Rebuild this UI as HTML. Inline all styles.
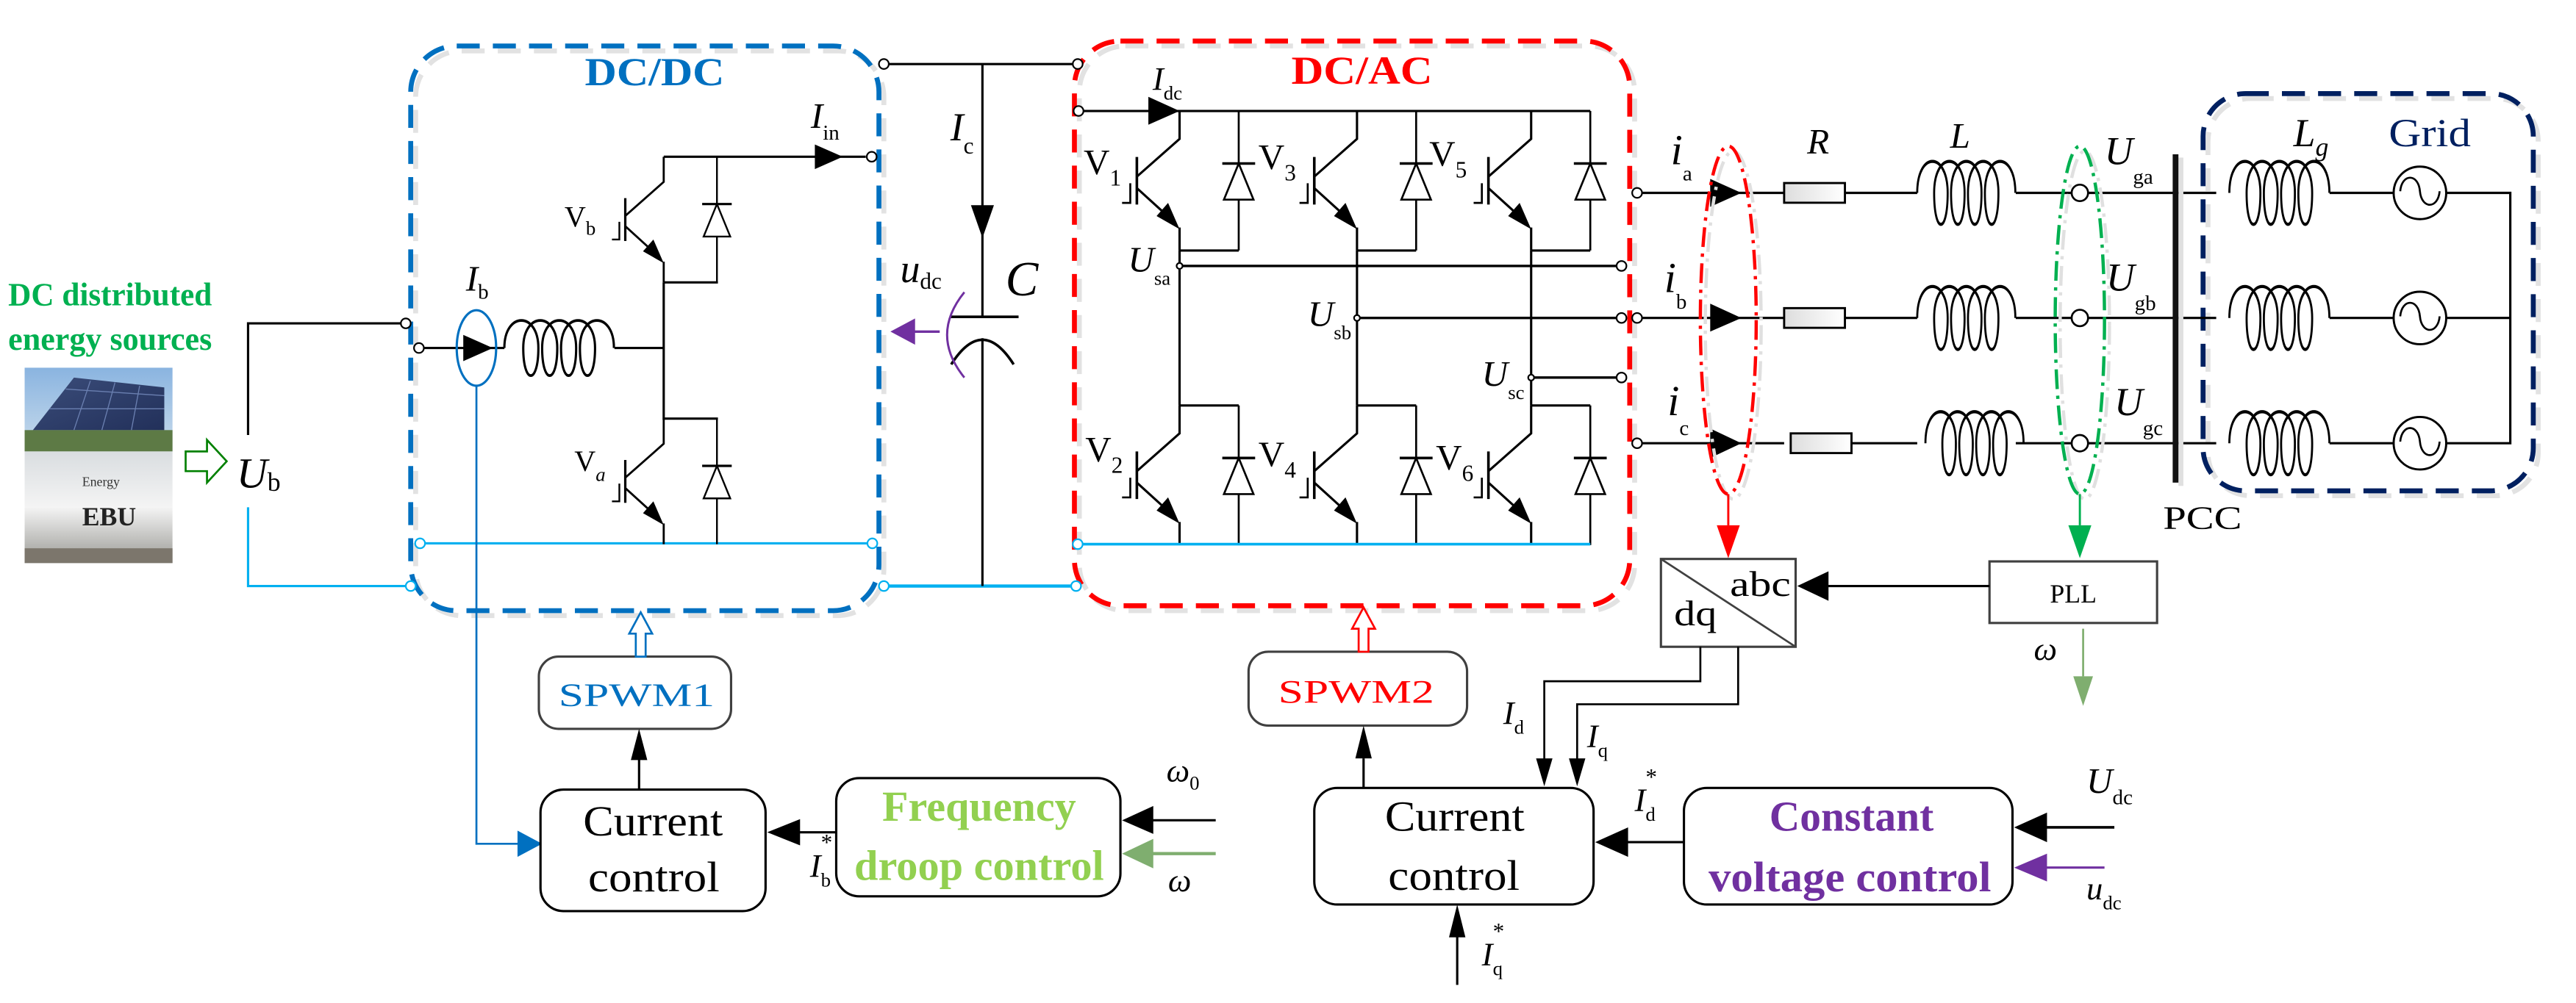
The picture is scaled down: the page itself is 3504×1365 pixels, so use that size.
<!DOCTYPE html>
<html><head><meta charset="utf-8"><style>
html,body{margin:0;padding:0;background:#fff;}
svg{display:block;}
text{font-family:"Liberation Serif",serif;}
.i{font-style:italic;}
</style></head><body>
<svg width="3504" height="1365" viewBox="0 0 1568 611" preserveAspectRatio="none" xmlns="http://www.w3.org/2000/svg">
<defs>
<g id="T">
  <path d="M0,0 V17 L-26,40 M-26,47 L-4,67 M0,71 V85" stroke="#000" stroke-width="1.4" fill="none"/>
  <polygon points="0,72 -14,64 -7,56" fill="#000"/>
  <path d="M-26,28 V57" stroke="#000" stroke-width="1.6"/>
  <path d="M-30,44 V56 H-35" stroke="#000" stroke-width="1.2" fill="none"/>
  <path d="M36,0 V85" stroke="#000" stroke-width="1.2"/>
  <polygon points="36,32 27,54 45,54" fill="#fff" stroke="#000" stroke-width="1.2"/>
  <path d="M26,32 H46" stroke="#000" stroke-width="1.6"/>
</g>
<path id="coil" d="M0,0 C0,-16 18,-16 18,0 C18,16 10,16 10,0 C10,-16 28,-16 28,0 C28,16 20,16 20,0 C20,-16 38,-16 38,0 C38,16 30,16 30,0 C30,-16 48,-16 48,0 C48,16 40,16 40,0 C40,-16 58,-16 58,0" fill="none" stroke="#000" stroke-width="1.2"/>
<g id="src">
  <circle cx="0" cy="0" r="16" fill="#fff" stroke="#000" stroke-width="1.3"/>
  <path d="M-12,-1 C-11,-12 -1,-12 0,-1 C1,10 11,10 12,-1" fill="none" stroke="#000" stroke-width="1.2"/>
</g>
<linearGradient id="sky" x1="0" y1="0" x2="0" y2="1"><stop offset="0" stop-color="#8ab4e0"/><stop offset="1" stop-color="#c9dcec"/></linearGradient>
<linearGradient id="panel" x1="0" y1="0" x2="1" y2="1"><stop offset="0" stop-color="#3b4d7a"/><stop offset="1" stop-color="#22305a"/></linearGradient>
<linearGradient id="ebu" x1="0" y1="0" x2="0" y2="1"><stop offset="0" stop-color="#d9dde0"/><stop offset="0.5" stop-color="#f4f4f4"/><stop offset="1" stop-color="#9a9a95"/></linearGradient>
<linearGradient id="res" x1="0" y1="0" x2="1" y2="0"><stop offset="0" stop-color="#ddd"/><stop offset="1" stop-color="#fff"/></linearGradient>
</defs>

<!-- Left text and photos -->
<text x="5" y="186" font-size="20" font-weight="bold" fill="#00b050" textLength="124" lengthAdjust="spacingAndGlyphs">DC distributed</text>
<text x="5" y="213" font-size="20" font-weight="bold" fill="#00b050" textLength="124" lengthAdjust="spacingAndGlyphs">energy sources</text>
<rect x="15" y="224" width="90" height="51" fill="url(#sky)"/>
<polygon points="20,262 45,230 100,236 100,262" fill="url(#panel)"/>
<path d="M30,249 L100,249 M40,237 L100,241 M55,232 L45,262 M70,233 L62,262 M85,235 L80,262" stroke="#6a7fb0" stroke-width="0.6"/>
<rect x="15" y="262" width="90" height="13" fill="#5d7a45"/>
<rect x="15" y="275" width="90" height="68" fill="url(#ebu)"/>
<rect x="15" y="334" width="90" height="9" fill="#7c766c"/>
<text x="50" y="296" font-size="8" fill="#333" font-family="Liberation Sans">Energy</text>
<text x="50" y="320" font-size="16" font-weight="bold" fill="#222" font-family="Liberation Sans">EBU</text>
<polygon points="113,275 126,275 126,268 138,281 126,294 126,287 113,287" fill="#fff" stroke="#008000" stroke-width="1.2"/>
<text x="144" y="297" font-size="26" class="i">U<tspan font-size="16" font-style="normal" dy="2">b</tspan></text>

<!-- DC/DC box -->
<rect x="253" y="31" width="285" height="344" rx="28" fill="none" stroke="#e2e2e2" stroke-width="3" stroke-dasharray="14 8"/>
<rect x="250" y="28" width="285" height="344" rx="28" fill="none" stroke="#0070c0" stroke-width="3" stroke-dasharray="14 8"/>
<text x="356" y="52" font-size="24" font-weight="bold" fill="#0070c0" textLength="85" lengthAdjust="spacingAndGlyphs">DC/DC</text>

<!-- DC/AC box -->
<rect x="657" y="28" width="338" height="344" rx="28" fill="none" stroke="#e2e2e2" stroke-width="3" stroke-dasharray="14 8"/>
<rect x="654" y="25" width="338" height="344" rx="28" fill="none" stroke="#ff0000" stroke-width="3" stroke-dasharray="14 8"/>
<text x="786" y="51" font-size="24" font-weight="bold" fill="#ff0000" textLength="86" lengthAdjust="spacingAndGlyphs">DC/AC</text>

<!-- Grid box -->
<rect x="1344" y="60" width="201" height="242" rx="26" fill="none" stroke="#e2e2e2" stroke-width="3" stroke-dasharray="14 8"/>
<rect x="1341" y="57" width="201" height="242" rx="26" fill="none" stroke="#002060" stroke-width="3" stroke-dasharray="14 8"/>
<text x="1454" y="89" font-size="24" fill="#002060" textLength="50" lengthAdjust="spacingAndGlyphs">Grid</text>

<!-- Ub wires -->
<path d="M151,265 V197 H244" stroke="#000" stroke-width="1.4" fill="none"/>
<circle cx="247" cy="197" r="3" fill="#fff" stroke="#000" stroke-width="1"/>
<path d="M151,309 V357 H247" stroke="#00b0f0" stroke-width="1.4" fill="none"/>
<circle cx="250" cy="357" r="3" fill="#fff" stroke="#00b0f0" stroke-width="1"/>
<path d="M541,357 H652" stroke="#00b0f0" stroke-width="2" fill="none"/>
<circle cx="538" cy="357" r="3" fill="#fff" stroke="#00b0f0" stroke-width="1"/>
<circle cx="655" cy="357" r="3" fill="#fff" stroke="#00b0f0" stroke-width="1"/>
<path d="M258,331 H528" stroke="#00b0f0" stroke-width="1.4"/>
<circle cx="255.7" cy="331" r="3" fill="#fff" stroke="#00b0f0" stroke-width="1"/>
<circle cx="531" cy="331" r="3" fill="#fff" stroke="#00b0f0" stroke-width="1"/>

<!-- DC/DC internals -->
<circle cx="255" cy="212" r="3" fill="#fff" stroke="#000" stroke-width="1"/>
<path d="M258,212 H307" stroke="#000" stroke-width="1.4"/>
<polygon points="300,212 282,204 282,220" fill="#000"/>
<ellipse cx="290" cy="212" rx="12" ry="23" fill="none" stroke="#0070c0" stroke-width="1.4"/>
<use href="#coil" transform="translate(307,212) scale(1.15,1.4)"/>
<path d="M374,212 H404" stroke="#000" stroke-width="1.4"/>
<path d="M404,95.5 H527" stroke="#000" stroke-width="1.4"/>
<circle cx="530.6" cy="95.5" r="3" fill="#fff" stroke="#000" stroke-width="1"/>
<polygon points="513,95.5 496,88 496,103" fill="#000"/>
<use href="#T" transform="translate(404,95.5) scale(0.9)"/>
<path d="M404,172 H437 M404,172 V255 H437" stroke="#000" stroke-width="1.4" fill="none"/>
<use href="#T" transform="translate(404,255) scale(0.9)"/>
<text x="343.6" y="138" font-size="18">V<tspan font-size="12" dy="5">b</tspan></text>
<text x="349.6" y="287" font-size="18">V<tspan font-size="12" dy="6" font-style="italic">a</tspan></text>
<text x="493.5" y="78" font-size="22" class="i">I<tspan font-size="13" font-style="normal" dy="7">in</tspan></text>
<text x="283.6" y="177" font-size="22" class="i">I<tspan font-size="13" font-style="normal" dy="5">b</tspan></text>
<!-- Ib feedback -->
<path d="M290,235 V514 H318" stroke="#0070c0" stroke-width="1.2" fill="none"/>
<polygon points="330,514 315,506 315,522" fill="#0070c0"/>

<!-- Capacitor -->
<path d="M538,39 H653" stroke="#000" stroke-width="1.4"/>
<circle cx="538" cy="39" r="3" fill="#fff" stroke="#000" stroke-width="1"/>
<circle cx="656" cy="39" r="3" fill="#fff" stroke="#000" stroke-width="1"/>
<path d="M598,39 V193 M598,206 V357" stroke="#000" stroke-width="1.4"/>
<polygon points="598,145 591,125 605,125" fill="#000"/>
<path d="M578,193 H620" stroke="#000" stroke-width="1.6"/>
<path d="M579,222 Q598,192 617,222" stroke="#000" stroke-width="1.6" fill="none"/>
<text x="578.5" y="85.6" font-size="24" class="i">I<tspan font-size="14" font-style="normal" dy="8">c</tspan></text>
<text x="612" y="180" font-size="30" class="i">C</text>
<text x="548" y="172" font-size="24" class="i">u<tspan font-size="14" font-style="normal" dy="4">dc</tspan></text>
<path d="M587,178 Q566,204 587,230" stroke="#7030a0" stroke-width="1.3" fill="none"/>
<path d="M556,202 H572" stroke="#7030a0" stroke-width="1.5"/>
<polygon points="542,202 557,194 557,210" fill="#7030a0"/>

<!-- DC/AC internals -->
<circle cx="656.5" cy="67.6" r="3" fill="#fff" stroke="#000" stroke-width="1"/>
<path d="M659.5,67.6 H968" stroke="#000" stroke-width="1.4"/>
<polygon points="718,67.6 699,59 699,76" fill="#000"/>
<text x="701.6" y="54.7" font-size="20" class="i">I<tspan font-size="12" font-style="normal" dy="6">dc</tspan></text>
<use href="#T" transform="translate(718,67.6)"/>
<use href="#T" transform="translate(826,67.6)"/>
<use href="#T" transform="translate(932,67.6)"/>
<use href="#T" transform="translate(718,247)"/>
<use href="#T" transform="translate(826,247)"/>
<use href="#T" transform="translate(932,247)"/>
<path d="M718,152.6 H754 M826,152.6 H862 M932,152.6 H968 M718,247 H754 M826,247 H862 M932,247 H968 M718,152.6 V247 M826,152.6 V247 M932,152.6 V247" stroke="#000" stroke-width="1.4" fill="none"/>
<path d="M656,331.5 H968" stroke="#00b0f0" stroke-width="1.6"/>
<circle cx="656" cy="331.5" r="3" fill="#fff" stroke="#00b0f0" stroke-width="1"/>
<path d="M718,162 H984 M826,193.7 H984 M932,230 H984" stroke="#000" stroke-width="1.5" fill="none"/>
<circle cx="718" cy="162" r="1.8" fill="#fff" stroke="#000"/>
<circle cx="826" cy="193.7" r="1.8" fill="#fff" stroke="#000"/>
<circle cx="932" cy="230" r="1.8" fill="#fff" stroke="#000"/>
<circle cx="987" cy="162" r="3" fill="#fff" stroke="#000" stroke-width="1"/>
<circle cx="987" cy="193.7" r="3" fill="#fff" stroke="#000" stroke-width="1"/>
<circle cx="987" cy="230" r="3" fill="#fff" stroke="#000" stroke-width="1"/>
<text x="659.6" y="106" font-size="22">V<tspan font-size="14" dy="7">1</tspan></text>
<text x="766" y="103" font-size="22">V<tspan font-size="14" dy="7">3</tspan></text>
<text x="870" y="101" font-size="22">V<tspan font-size="14" dy="7">5</tspan></text>
<text x="660.6" y="281" font-size="22">V<tspan font-size="14" dy="7">2</tspan></text>
<text x="766" y="284" font-size="22">V<tspan font-size="14" dy="7">4</tspan></text>
<text x="874" y="286" font-size="22">V<tspan font-size="14" dy="7">6</tspan></text>
<text x="686.6" y="165.5" font-size="22" class="i">U<tspan font-size="12" font-style="normal" dy="8">sa</tspan></text>
<text x="796" y="198.6" font-size="22" class="i">U<tspan font-size="12" font-style="normal" dy="8">sb</tspan></text>
<text x="902" y="235" font-size="22" class="i">U<tspan font-size="12" font-style="normal" dy="8">sc</tspan></text>

<!-- Phase lines -->
<g stroke="#000" stroke-width="1.4" fill="none">
<path d="M999,117.5 H1086 M1123,117.5 H1167 M1227,117.5 H1349"/>
<path d="M999,193.7 H1086 M1123,193.7 H1167 M1227,193.7 H1349"/>
<path d="M999,270 H1086 M1123,270 H1167 M1227,270 H1349"/>
<path d="M1418,117.5 H1457 M1489,117.5 H1528 V270 H1489 M1418,193.7 H1457 M1489,193.7 H1528 M1418,270 H1457"/>
</g>
<circle cx="996.5" cy="117.5" r="3" fill="#fff" stroke="#000" stroke-width="1"/>
<circle cx="996.5" cy="193.7" r="3" fill="#fff" stroke="#000" stroke-width="1"/>
<circle cx="996.5" cy="270" r="3" fill="#fff" stroke="#000" stroke-width="1"/>
<polygon points="1060,117.5 1041,109 1041,126" fill="#000"/>
<polygon points="1060,193.7 1041,185 1041,202" fill="#000"/>
<polygon points="1060,270 1041,261 1041,279" fill="#000"/>
<rect x="1086" y="111.5" width="37" height="12" fill="url(#res)" stroke="#000" stroke-width="1.3"/>
<rect x="1086" y="187.7" width="37" height="12" fill="url(#res)" stroke="#000" stroke-width="1.3"/>
<rect x="1090" y="264" width="37" height="12" fill="url(#res)" stroke="#000" stroke-width="1.3"/>
<use href="#coil" transform="translate(1167,117.5) scale(1.03,1.6)"/>
<use href="#coil" transform="translate(1167,193.7) scale(1.03,1.6)"/>
<use href="#coil" transform="translate(1172,270) scale(1.03,1.6)"/>
<circle cx="1266" cy="117.5" r="5" fill="#fff" stroke="#000" stroke-width="1.2"/>
<circle cx="1266" cy="193.7" r="5" fill="#fff" stroke="#000" stroke-width="1.2"/>
<circle cx="1266" cy="270" r="5" fill="#fff" stroke="#000" stroke-width="1.2"/>
<rect x="1326" y="96" width="3" height="200" fill="#e0e0e0"/>
<rect x="1322.5" y="94" width="3.5" height="200" fill="#111"/>
<use href="#coil" transform="translate(1357,117.5) scale(1.05,1.6)"/>
<use href="#coil" transform="translate(1357,193.7) scale(1.05,1.6)"/>
<use href="#coil" transform="translate(1357,270) scale(1.05,1.6)"/>
<use href="#src" transform="translate(1473,117.5)"/>
<use href="#src" transform="translate(1473,193.7)"/>
<use href="#src" transform="translate(1473,270)"/>
<text x="1017" y="100" font-size="26" class="i">i<tspan font-size="13" font-style="normal" dy="10">a</tspan></text>
<text x="1013" y="178" font-size="26" class="i">i<tspan font-size="13" font-style="normal" dy="10">b</tspan></text>
<text x="1015" y="253" font-size="26" class="i">i<tspan font-size="13" font-style="normal" dy="12">c</tspan></text>
<text x="1100" y="93.6" font-size="22" class="i">R</text>
<text x="1187" y="90" font-size="22" class="i">L</text>
<text x="1281" y="100" font-size="24" class="i">U<tspan font-size="13" font-style="normal" dy="12">ga</tspan></text>
<text x="1282" y="177" font-size="24" class="i">U<tspan font-size="13" font-style="normal" dy="12">gb</tspan></text>
<text x="1287" y="253" font-size="24" class="i">U<tspan font-size="13" font-style="normal" dy="12">gc</tspan></text>
<text x="1396" y="89" font-size="24" class="i">L<tspan font-size="16" dy="6">g</tspan></text>
<text x="1316.6" y="322" font-size="20" textLength="48" lengthAdjust="spacingAndGlyphs">PCC</text>

<!-- dash-dot ellipses -->
<ellipse cx="1052" cy="195" rx="17" ry="106" fill="none" stroke="#e0e0e0" stroke-width="2" stroke-dasharray="12 4 2 4" transform="translate(3,3)"/>
<ellipse cx="1052" cy="195" rx="17" ry="106" fill="none" stroke="#ff0000" stroke-width="2" stroke-dasharray="12 4 2 4"/>
<ellipse cx="1266" cy="195" rx="15" ry="106" fill="none" stroke="#e0e0e0" stroke-width="2" stroke-dasharray="12 4 2 4" transform="translate(3,3)"/>
<ellipse cx="1266" cy="195" rx="15" ry="106" fill="none" stroke="#00b050" stroke-width="2" stroke-dasharray="12 4 2 4"/>
<path d="M1052,301 V320" stroke="#ff0000" stroke-width="1.3"/>
<polygon points="1052,340 1045,320 1059,320" fill="#ff0000"/>
<path d="M1266,301 V320" stroke="#00b050" stroke-width="1.3"/>
<polygon points="1266,340 1259,320 1273,320" fill="#00b050"/>

<!-- abc/dq and PLL -->
<rect x="1011" y="340.5" width="82" height="53.5" fill="#fff" stroke="#404040" stroke-width="1.4"/>
<path d="M1011,340.5 L1093,394" stroke="#404040" stroke-width="1.2"/>
<text x="1053" y="363" font-size="22" textLength="37" lengthAdjust="spacingAndGlyphs">abc</text>
<text x="1019" y="381" font-size="22" textLength="26" lengthAdjust="spacingAndGlyphs">dq</text>
<rect x="1211" y="342" width="102" height="37.5" fill="#fff" stroke="#404040" stroke-width="1.4"/>
<text x="1262" y="367" font-size="16" text-anchor="middle">PLL</text>
<path d="M1211,357 H1112" stroke="#000" stroke-width="1.4"/>
<polygon points="1094,357 1113,348 1113,366" fill="#000"/>
<path d="M1268,383 V412" stroke="#7fae6f" stroke-width="1.2"/>
<polygon points="1268,430 1262,412 1274,412" fill="#7fae6f"/>
<text x="1238" y="402" font-size="20" class="i">ω</text>

<!-- Id Iq wires -->
<path d="M1035,394 V415 H940 V465 M1058,394 V429 H960 V465" stroke="#000" stroke-width="1.2" fill="none"/>
<polygon points="940,479 935,462 945,462" fill="#000"/>
<polygon points="960,479 955,462 965,462" fill="#000"/>
<text x="915" y="441" font-size="20" class="i">I<tspan font-size="12" font-style="normal" dy="6">d</tspan></text>
<text x="966" y="455" font-size="20" class="i">I<tspan font-size="12" font-style="normal" dy="6">q</tspan></text>

<!-- SPWM blocks -->
<rect x="328" y="400" width="117" height="44" rx="12" fill="#fff" stroke="#404040" stroke-width="1.4"/>
<text x="340" y="430" font-size="20" fill="#0070c0" textLength="95" lengthAdjust="spacingAndGlyphs">SPWM1</text>
<polygon points="387,400 387,386 383,386 390,373 397,386 393,386 393,400" fill="#fff" stroke="#0070c0" stroke-width="1.2"/>
<rect x="760" y="397" width="133" height="45" rx="12" fill="#fff" stroke="#404040" stroke-width="1.4"/>
<text x="778" y="428" font-size="20" fill="#ff0000" textLength="95" lengthAdjust="spacingAndGlyphs">SPWM2</text>
<polygon points="827,397 827,383 823,383 830,370 837,383 833,383 833,397" fill="#fff" stroke="#ff0000" stroke-width="1.2"/>

<!-- Control blocks -->
<rect x="329" y="481" width="137" height="74" rx="14" fill="#fff" stroke="#000" stroke-width="1.4"/>
<text x="355" y="509" font-size="26" textLength="85" lengthAdjust="spacingAndGlyphs">Current</text>
<text x="358" y="543" font-size="26" textLength="80" lengthAdjust="spacingAndGlyphs">control</text>
<path d="M389,481 V462" stroke="#000" stroke-width="1.4"/>
<polygon points="389,444 384,463 394,463" fill="#000"/>
<rect x="509" y="474" width="173" height="72" rx="14" fill="#fff" stroke="#000" stroke-width="1.4"/>
<text x="537" y="500" font-size="26" font-weight="bold" fill="#92d050" textLength="118" lengthAdjust="spacingAndGlyphs">Frequency</text>
<text x="520" y="536" font-size="26" font-weight="bold" fill="#92d050" textLength="152" lengthAdjust="spacingAndGlyphs">droop control</text>
<path d="M509,507 H484" stroke="#000" stroke-width="1.4"/>
<polygon points="467,507 487,499 487,515" fill="#000"/>
<text x="493" y="534" font-size="20" class="i">I<tspan font-size="12" font-style="normal" dy="6">b</tspan><tspan font-size="14" font-style="normal" dx="-6" dy="-22">*</tspan></text>
<path d="M740,499.7 H700" stroke="#000" stroke-width="1.4"/>
<polygon points="683,499.7 702,491 702,508" fill="#000"/>
<path d="M740,520 H700" stroke="#7fae6f" stroke-width="2"/>
<polygon points="683,520 702,511 702,529" fill="#7fae6f"/>
<text x="710" y="476" font-size="20" class="i">ω<tspan font-size="12" font-style="normal" dy="5">0</tspan></text>
<text x="711" y="543" font-size="20" class="i">ω</text>

<rect x="800" y="480" width="170" height="71" rx="14" fill="#fff" stroke="#000" stroke-width="1.4"/>
<text x="843" y="506" font-size="26" textLength="85" lengthAdjust="spacingAndGlyphs">Current</text>
<text x="845" y="542" font-size="26" textLength="80" lengthAdjust="spacingAndGlyphs">control</text>
<path d="M830,480 V462" stroke="#000" stroke-width="1.4"/>
<polygon points="830,442 825,462 835,462" fill="#000"/>
<rect x="1025" y="480" width="200" height="71" rx="14" fill="#fff" stroke="#000" stroke-width="1.4"/>
<text x="1077" y="506" font-size="26" font-weight="bold" fill="#7030a0" textLength="100" lengthAdjust="spacingAndGlyphs">Constant</text>
<text x="1040" y="543" font-size="26" font-weight="bold" fill="#7030a0" textLength="172" lengthAdjust="spacingAndGlyphs">voltage control</text>
<path d="M1025,513 H990" stroke="#000" stroke-width="1.4"/>
<polygon points="971,513 991,504 991,522" fill="#000"/>
<text x="995" y="494" font-size="20" class="i">I<tspan font-size="12" font-style="normal" dy="6">d</tspan><tspan font-size="14" font-style="normal" dx="-6" dy="-22">*</tspan></text>
<path d="M1287,504 H1245" stroke="#000" stroke-width="1.6"/>
<polygon points="1226,504 1246,495 1246,513" fill="#000"/>
<path d="M1281,528.5 H1245" stroke="#7030a0" stroke-width="1.4"/>
<polygon points="1226,528.5 1246,520 1246,537" fill="#7030a0"/>
<text x="1270" y="483" font-size="22" class="i">U<tspan font-size="13" font-style="normal" dy="7">dc</tspan></text>
<text x="1270" y="548" font-size="20" class="i">u<tspan font-size="12" font-style="normal" dy="6">dc</tspan></text>
<path d="M887,600 V570" stroke="#000" stroke-width="1.4"/>
<polygon points="887,551 882,571 892,571" fill="#000"/>
<text x="902" y="588" font-size="20" class="i">I<tspan font-size="12" font-style="normal" dy="6">q</tspan><tspan font-size="14" font-style="normal" dx="-6" dy="-22">*</tspan></text>
</svg>
</body></html>
